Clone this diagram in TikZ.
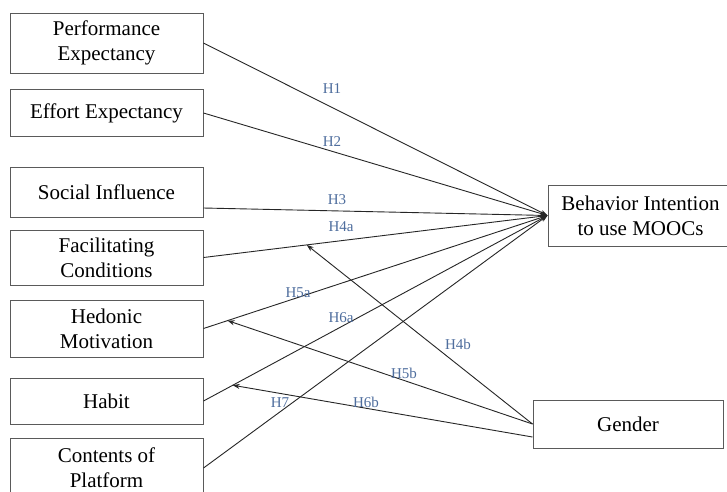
\documentclass[tikz,border=0pt]{standalone}
\usepackage{fontspec}
\setmainfont{Liberation Serif}
\usetikzlibrary{arrows.meta}
\definecolor{framegray}{HTML}{5A5A5A}
\definecolor{linedark}{HTML}{262626}
\definecolor{hypblue}{HTML}{4F6E9E}

\begin{document}
\begin{tikzpicture}[
    x=1pt, y=-1pt,
    box/.style={rectangle, draw=framegray, line width=1pt, minimum width=193pt,
                inner sep=0pt, align=center, font=\fontsize{21}{25}\selectfont},
    arrow/.style={-{Stealth[length=7pt,width=5pt]}, line width=0.9pt, color=linedark},
    hyp/.style={inner sep=0pt, text=hypblue, font=\fontsize{15}{18}\selectfont}
  ]
    \useasboundingbox (0,0) rectangle (727,491);
    \clip (0,0) rectangle (727,491);
    \fill[white] (0,0) rectangle (727,491);

    % predictors
    \node[box, minimum height=60pt] (perf)     at (106.5,43)    {Performance\\Expectancy};
    \node[box, minimum height=47pt] (effort)   at (106.5,113)   {Effort Expectancy};
    \node[box, minimum height=50pt] (social)   at (106.5,192)   {Social Influence};
    \node[box, minimum height=55pt] (facil)    at (106.5,257.5) {Facilitating\\Conditions};
    \node[box, minimum height=57pt] (hedonic)  at (106.5,328.5) {Hedonic\\Motivation};
    \node[box, minimum height=46pt] (habit)    at (106.5,401)   {Habit};
    \node[box, minimum height=60pt] (contents) at (106.5,468)   {Contents of\\Platform};

    % outcome and moderator
    \node[box, minimum width=185pt, minimum height=61pt] (intent) at (640.5,215.5) {Behavior Intention\\to use MOOCs};
    \node[box, minimum width=190pt, minimum height=48pt] (gender) at (628,424) {Gender};

    \draw[arrow] (perf.east) -- (intent.west);
    \draw[arrow] (effort.east) -- (intent.west);
    \draw[arrow] ([yshift=-16pt]social.east) -- (intent.west);
    \draw[arrow] (facil.east) -- coordinate[pos=0.3] (mfacil) (intent.west);
    \draw[arrow] (hedonic.east) -- coordinate[pos=0.07] (mhedonic) (intent.west);
    \draw[arrow] (habit.east) -- coordinate[pos=0.085] (mhabit) (intent.west);
    \draw[arrow] (contents.east) -- (intent.west);

    \draw[arrow] (gender.west) -- (mfacil);
    \draw[arrow] (gender.west) -- (mhedonic);
    \draw[arrow] ([yshift=-13pt]gender.west) -- (mhabit);

    % hypothesis labels
    \node[hyp] (h1)  at (332,89)  {H1};
    \node[hyp] (h2)  at (332,142) {H2};
    \node[hyp] (h3)  at (337,200) {H3};
    \node[hyp] (h4a) at (341,227) {H4a};
    \node[hyp] (h5a) at (298,293) {H5a};
    \node[hyp] (h6a) at (341,318) {H6a};
    \node[hyp] (h7)  at (280,403) {H7};
    \node[hyp] (h4b) at (458,344) {H4b};
    \node[hyp] (h5b) at (404,373) {H5b};
    \node[hyp] (h6b) at (366,402) {H6b};
\end{tikzpicture}
\end{document}
